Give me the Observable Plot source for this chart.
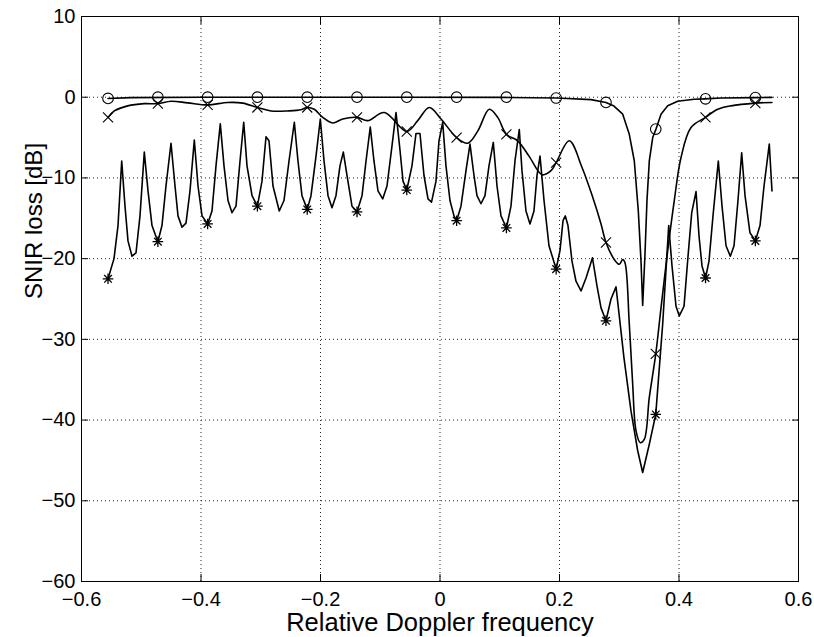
<!DOCTYPE html>
<html><head><meta charset="utf-8">
<script src="https://cdn.jsdelivr.net/npm/d3@7"></script>
<script src="https://cdn.jsdelivr.net/npm/@observablehq/plot@0.6"></script>
<style>html,body{margin:0;padding:0;background:#fff;} #chart svg{display:block}</style>
</head><body><div id="chart"></div>
<script>
// ---- tick values and labels ----
const xTicks = [-0.6, -0.4, -0.2, 0, 0.2, 0.4, 0.6];
const xTickLabels = ["−0.6", "−0.4", "−0.2", "0", "0.2", "0.4", "0.6"];
const yTicks = [-60, -50, -40, -30, -20, -10, 0, 10];
const yTickLabels = ["−60", "−50", "−40", "−30", "−20", "−10", "0", "10"];
const xLabel = "Relative Doppler frequency";
const yLabel = "SNIR loss [dB]";

// ---- series "o" (line) ----
const circX = [-0.5556, -0.5172, -0.4, -0.2326, -0.0653, 0.1021, 0.1958, 0.2527, 0.2778, 0.2912, 0.3058, 0.3168, 0.3252, 0.3319, 0.3364, 0.3392, 0.3431, 0.3464, 0.3503, 0.3560, 0.3615, 0.3699, 0.3811, 0.3978, 0.4251, 0.4435, 0.4703, 0.5272, 0.5556];
const circY = [-0.15, -0.05, 0, 0, 0, -0.02, -0.1, -0.3, -0.65, -1.1, -2.1, -4.6, -7.9, -14.1, -20.3, -25.8, -19.4, -12.8, -7.9, -5.0, -3.95, -2.1, -1.07, -0.5, -0.25, -0.2, -0.1, -0.05, -0.02];

// ---- series "x" (line) ----
const crossX = [-0.5556, -0.5451, -0.5227, -0.4949, -0.4722, -0.4502, -0.4223, -0.3889, -0.3553, -0.3302, -0.3056, -0.2828, -0.2549, -0.2326, -0.2222, -0.2104, -0.1963, -0.1796, -0.1628, -0.1389, -0.1210, -0.0932, -0.0556, -0.0373, -0.0179, 0.0017, 0.0278, 0.0464, 0.0631, 0.0825, 0.0966, 0.1111, 0.1300, 0.1490, 0.1707, 0.1858, 0.1944, 0.2164, 0.2377, 0.2556, 0.2695, 0.2778, 0.2917, 0.3001, 0.3058, 0.3096, 0.3168, 0.3225, 0.3280, 0.3352, 0.3419, 0.3503, 0.3611, 0.3699, 0.3811, 0.3921, 0.4033, 0.4201, 0.4444, 0.4648, 0.4870, 0.5278, 0.5556];
const crossY = [-2.5, -1.7, -1.07, -0.8, -0.8, -0.5, -0.7, -0.95, -0.65, -0.73, -1.27, -1.7, -1.7, -1.56, -1.27, -1.5, -2.5, -3.2, -2.7, -2.5, -2.9, -1.9, -4.25, -2.9, -1.27, -2.7, -5.0, -5.7, -4.2, -1.5, -2.5, -4.6, -5.4, -7.3, -9.6, -9.1, -8.1, -5.4, -8.7, -12.4, -15.7, -18.0, -20.1, -20.7, -20.1, -20.5, -28.1, -35.6, -41.3, -42.8, -42.4, -37.2, -31.8, -26.1, -19.0, -12.8, -7.5, -3.75, -2.5, -1.5, -1.07, -0.73, -0.65];

// ---- series "*" (line) ----
const starX = [-0.5556, -0.5456, -0.5389, -0.5327, -0.5272, -0.5222, -0.5155, -0.5088, -0.5021, -0.4949, -0.4887, -0.4820, -0.4722, -0.4653, -0.4586, -0.4502, -0.4435, -0.4385, -0.4318, -0.4251, -0.4184, -0.4112, -0.4050, -0.3983, -0.3889, -0.3816, -0.3749, -0.3677, -0.3615, -0.3548, -0.3481, -0.3414, -0.3347, -0.3285, -0.3230, -0.3146, -0.3056, -0.2979, -0.2912, -0.2862, -0.2795, -0.2690, -0.2611, -0.2527, -0.2438, -0.2377, -0.2310, -0.2222, -0.2159, -0.2075, -0.2003, -0.1941, -0.1874, -0.1808, -0.1741, -0.1674, -0.1618, -0.1556, -0.1473, -0.1389, -0.1305, -0.1238, -0.1167, -0.1105, -0.1038, -0.0959, -0.0887, -0.0803, -0.0736, -0.0669, -0.0619, -0.0556, -0.0469, -0.0402, -0.0335, -0.0268, -0.0201, -0.0142, -0.0067, -0.0017, 0.0045, 0.0100, 0.0167, 0.0234, 0.0278, 0.0351, 0.0435, 0.0502, 0.0569, 0.0619, 0.0686, 0.0753, 0.0820, 0.0892, 0.0954, 0.1021, 0.1111, 0.1188, 0.1255, 0.1327, 0.1372, 0.1439, 0.1506, 0.1573, 0.1623, 0.1674, 0.1741, 0.1824, 0.1944, 0.2008, 0.2059, 0.2097, 0.2142, 0.2209, 0.2276, 0.2360, 0.2444, 0.2552, 0.2628, 0.2695, 0.2778, 0.2862, 0.2946, 0.3079, 0.3197, 0.3309, 0.3392, 0.3503, 0.3611, 0.3727, 0.3828, 0.3883, 0.3950, 0.4005, 0.4084, 0.4151, 0.4213, 0.4285, 0.4335, 0.4385, 0.4444, 0.4502, 0.4569, 0.4658, 0.4720, 0.4787, 0.4859, 0.4921, 0.4987, 0.5049, 0.5105, 0.5188, 0.5278, 0.5356, 0.5423, 0.5511, 0.5556];
const starY = [-22.5, -20.0, -15.9, -7.9, -13.5, -17.8, -19.7, -19.3, -14.7, -6.8, -11.6, -15.9, -17.9, -15.9, -11.0, -5.7, -11.0, -14.7, -16.1, -15.6, -11.6, -5.3, -11.0, -14.7, -15.7, -14.1, -8.5, -3.3, -8.5, -12.8, -14.3, -13.5, -7.9, -3.1, -8.5, -12.2, -13.5, -10.4, -4.9, -5.4, -11.0, -14.1, -12.8, -7.9, -3.1, -7.9, -12.2, -13.9, -12.2, -7.3, -2.7, -7.9, -12.2, -13.7, -12.2, -8.5, -6.8, -9.7, -13.5, -14.2, -12.2, -7.9, -3.7, -7.9, -11.6, -12.6, -11.0, -6.0, -1.9, -6.6, -10.4, -11.5, -8.5, -4.5, -4.5, -9.7, -12.6, -13.0, -10.4, -5.4, -3.1, -8.5, -12.8, -14.7, -15.3, -13.5, -9.1, -5.8, -9.7, -12.2, -13.2, -12.2, -8.5, -5.6, -11.0, -14.7, -16.2, -13.5, -7.9, -4.0, -9.1, -14.1, -15.7, -14.1, -9.7, -7.3, -12.8, -18.4, -21.3, -19.0, -15.3, -14.7, -15.9, -20.3, -22.8, -24.0, -22.4, -19.9, -23.4, -26.1, -27.7, -25.0, -23.5, -32.3, -38.9, -43.8, -46.5, -43.0, -39.3, -28.1, -15.9, -20.9, -25.9, -27.1, -25.9, -19.7, -14.3, -11.7, -17.2, -20.9, -22.4, -20.3, -14.7, -7.9, -13.5, -18.4, -19.7, -18.4, -12.8, -6.9, -12.2, -16.8, -17.8, -15.9, -11.0, -5.8, -11.6];

// ---- markers ----
const markX = [-0.5556, -0.4722, -0.3889, -0.3056, -0.2222, -0.1389, -0.0556, 0.0278, 0.1111, 0.1944, 0.2778, 0.3611, 0.4444, 0.5278];
const circMarkY = [-0.15, 0, 0, 0, 0, 0, 0, 0, 0, -0.1, -0.65, -3.95, -0.2, -0.05];
const crossMarkY = [-2.5, -0.8, -0.95, -1.27, -1.27, -2.5, -4.25, -5.0, -4.6, -8.1, -18.0, -31.8, -2.5, -0.73];
const starMarkY = [-22.5, -17.9, -15.7, -13.5, -13.9, -14.2, -11.5, -15.3, -16.2, -21.3, -27.7, -39.3, -22.4, -17.8];

// ---- build tables ----
const toRows = (xs, ys) => xs.map((x, i) => ({x, y: ys[i]}));
const circRows = toRows(circX, circY);
const crossRows = toRows(crossX, crossY);
const starRows = toRows(starX, starY);
const circMarks = toRows(markX, circMarkY);
const crossMarks = toRows(markX, crossMarkY);
const starMarks = toRows(markX, starMarkY);

const xFmt = d => xTickLabels[xTicks.indexOf(d)] ?? String(d);
const yFmt = d => yTickLabels[yTicks.indexOf(d)] ?? String(d);

// custom MATLAB-like marker shapes
const timesSym = {draw(ctx, size) { const r = Math.sqrt(size / Math.PI) * 0.95;
  ctx.moveTo(-r, -r); ctx.lineTo(r, r); ctx.moveTo(-r, r); ctx.lineTo(r, -r); }};
const starSym = {draw(ctx, size) { const r = Math.sqrt(size / Math.PI); const a = r * 0.72;
  ctx.moveTo(-r, 0); ctx.lineTo(r, 0); ctx.moveTo(0, -r); ctx.lineTo(0, r);
  ctx.moveTo(-a, -a); ctx.lineTo(a, a); ctx.moveTo(-a, a); ctx.lineTo(a, -a); }};

const font = "'Liberation Sans', Arial, Helvetica, sans-serif";
const lineW = 1.6;

const chart = Plot.plot({
  width: 814,
  height: 637,
  marginLeft: 81,
  marginRight: 16,
  marginTop: 16,
  marginBottom: 56,
  x: {domain: [-0.6, 0.6]},
  y: {domain: [-60, 10]},
  style: {fontFamily: font, fontSize: "20px", color: "black", background: "white", overflow: "visible"},
  marks: [
    Plot.gridX(xTicks, {stroke: "black", strokeOpacity: 0.85, strokeDasharray: "1,3", strokeWidth: 1}),
    Plot.gridY(yTicks, {stroke: "black", strokeOpacity: 0.85, strokeDasharray: "1,3", strokeWidth: 1}),
    Plot.axisX(xTicks, {anchor: "bottom", tickSize: -7, tickFormat: () => "", label: null}),
    Plot.axisX(xTicks, {anchor: "top", tickSize: -7, tickFormat: () => "", label: null}),
    Plot.axisY(yTicks, {anchor: "left", tickSize: -7, tickFormat: () => "", label: null}),
    Plot.axisY(yTicks, {anchor: "right", tickSize: -7, tickFormat: () => "", label: null}),
    Plot.axisX(xTicks, {anchor: "bottom", tickSize: 0, tickPadding: 10, tickFormat: xFmt, label: null, fontSize: 20}),
    Plot.axisY(yTicks, {anchor: "left", tickSize: 0, tickPadding: 6, tickFormat: yFmt, label: null, fontSize: 20}),
    Plot.frame({stroke: "black", strokeWidth: 1}),
    Plot.line(circRows, {x: "x", y: "y", stroke: "black", strokeWidth: lineW, curve: "linear"}),
    Plot.line(crossRows, {x: "x", y: "y", stroke: "black", strokeWidth: lineW, curve: "catmull-rom"}),
    Plot.line(starRows, {x: "x", y: "y", stroke: "black", strokeWidth: lineW, curve: "linear"}),
    Plot.dot(circMarks, {x: "x", y: "y", r: 5.3, symbol: "circle", stroke: "black", fill: "none", strokeWidth: 1.1}),
    Plot.dot(crossMarks, {x: "x", y: "y", r: 5.3, symbol: timesSym, stroke: "black", fill: "none", strokeWidth: 1.1}),
    Plot.dot(starMarks, {x: "x", y: "y", r: 5.3, symbol: starSym, stroke: "black", fill: "none", strokeWidth: 1.3}),
    Plot.text([xLabel], {frameAnchor: "bottom", dy: 31, lineAnchor: "top", fontSize: 25.5, text: d => d}),
    Plot.text([yLabel], {frameAnchor: "left", dx: -47, rotate: -90, lineAnchor: "middle", fontSize: 24, text: d => d})
  ]
});
document.getElementById("chart").appendChild(chart);
</script>
</body></html>
